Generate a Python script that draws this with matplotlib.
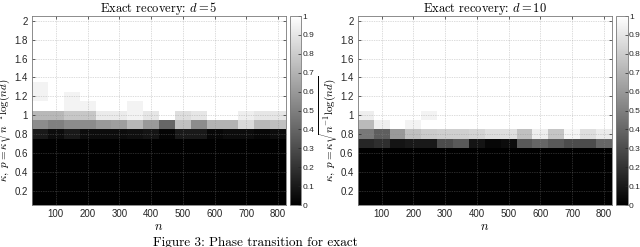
import numpy as np
import matplotlib
matplotlib.use("Agg")
import matplotlib.pyplot as plt

plt.rcParams["mathtext.fontset"] = "cm"
plt.rcParams["font.family"] = ["Liberation Sans", "DejaVu Sans"]

# --- data ---
n_vals = [50, 100, 150, 200, 250, 300, 350, 400, 450, 500, 550, 600, 650, 700, 750, 800]
kappa_vals = [0.1, 0.2, 0.3, 0.4, 0.5, 0.6, 0.7, 0.8, 0.9, 1.0,
              1.1, 1.2, 1.3, 1.4, 1.5, 1.6, 1.7, 1.8, 1.9, 2.0]

# d = 5 : rows with kappa 0.8 .. 1.3 (below all 0, above all 1)
d5_k08 = [0.10, 0.05, 0.10, 0.05, 0.05, 0.05, 0.06, 0.08, 0.02, 0.10, 0.10, 0.03, 0.05, 0.05, 0.03, 0.05]
d5_k09 = [0.55, 0.50, 0.55, 0.55, 0.60, 0.62, 0.72, 0.60, 0.40, 0.75, 0.55, 0.70, 0.70, 0.85, 0.72, 0.75]
d5_k10 = [0.72, 0.72, 0.78, 0.78, 0.92, 0.92, 0.95, 0.90, 1.00, 0.87, 0.90, 1.00, 1.00, 0.93, 0.90, 0.90]
d5_k11 = [1.00, 1.00, 0.95, 0.95, 1.00, 1.00, 0.95, 1.00, 1.00, 1.00, 1.00, 1.00, 1.00, 1.00, 1.00, 1.00]
d5_k12 = [0.95, 1.00, 0.95, 1.00, 1.00, 1.00, 1.00, 1.00, 1.00, 1.00, 1.00, 1.00, 1.00, 1.00, 1.00, 1.00]
d5_k13 = [0.95, 1.00, 1.00, 1.00, 1.00, 1.00, 1.00, 1.00, 1.00, 1.00, 1.00, 1.00, 1.00, 1.00, 1.00, 1.00]

# d = 10 : rows with kappa 0.7 .. 1.0
d10_k07 = [0.15, 0.18, 0.08, 0.10, 0.10, 0.30, 0.35, 0.08, 0.03, 0.05, 0.35, 0.40, 0.35, 0.30, 0.30, 0.40]
d10_k08 = [0.47, 0.37, 0.60, 0.75, 0.80, 0.81, 0.81, 0.83, 0.87, 0.87, 0.75, 0.93, 0.77, 0.96, 0.87, 0.92]
d10_k09 = [0.73, 0.93, 1.00, 0.95, 1.00, 1.00, 1.00, 1.00, 1.00, 1.00, 1.00, 1.00, 1.00, 1.00, 1.00, 1.00]
d10_k10 = [0.93, 1.00, 1.00, 1.00, 0.95, 1.00, 1.00, 1.00, 1.00, 1.00, 1.00, 1.00, 1.00, 1.00, 1.00, 1.00]


def build(rows, first_kappa):
    # rows under first_kappa are black (0), rows above the given ones are white (1)
    z = np.ones((len(kappa_vals), len(n_vals)))
    i0 = int(round(first_kappa * 10)) - 1
    z[:i0, :] = 0.0
    for j, r in enumerate(rows):
        z[i0 + j, :] = r
    return z


Z5 = build([d5_k08, d5_k09, d5_k10, d5_k11, d5_k12, d5_k13], 0.8)
Z10 = build([d10_k07, d10_k08, d10_k09, d10_k10], 0.7)

n_arr = np.array(n_vals, dtype=float)
k_arr = np.array(kappa_vals)
n_edges = np.concatenate([n_arr - 25, [n_arr[-1] + 25]])
k_edges = np.concatenate([k_arr - 0.05, [k_arr[-1] + 0.05]])

fig = plt.figure(figsize=(6.4, 2.47), dpi=100)

panels = [
    (Z5, r"Exact recovery: $d=5$", [0.050, 0.170, 0.397, 0.765], [0.453, 0.170, 0.018, 0.765]),
    (Z10, r"Exact recovery: $d=10$", [0.559, 0.170, 0.397, 0.765], [0.9625, 0.170, 0.018, 0.765]),
]

for Z, title, apos, cpos in panels:
    ax = fig.add_axes(apos)
    mesh = ax.pcolormesh(n_edges, k_edges, Z, cmap="gray", vmin=0, vmax=1)
    ax.set_xlim(25, 825)
    ax.set_ylim(0.05, 2.05)
    ax.set_xticks(range(100, 801, 100))
    ax.set_yticks(np.arange(0.2, 2.01, 0.2))
    ax.set_yticklabels(["%g" % round(v, 1) for v in np.arange(0.2, 2.01, 0.2)])
    ax.tick_params(direction="in", length=2.5, width=0.5, labelsize=7, colors="#262626",
                   top=True, right=True, pad=3)
    ax.grid(True, linestyle=(0, (1, 1.5)), color="#8c8c8c", linewidth=0.5, alpha=0.6)
    for s in ax.spines.values():
        s.set_color("#7a7a7a")
        s.set_linewidth(0.6)
    ax.set_title(title, fontsize=9, family="cmr10", pad=3)
    ax.set_xlabel(r"$n$", fontsize=9, labelpad=1)
    ax.set_ylabel(r"$\kappa,\ p=\kappa\sqrt{n^{-1}\log(nd)}$", fontsize=8)
    ax.yaxis.set_label_coords(-0.07, 0.40)

    cax = fig.add_axes(cpos)
    cb = fig.colorbar(mesh, cax=cax)
    cb.set_ticks(np.arange(0, 1.01, 0.1))
    cb.set_ticklabels(["%g" % round(v, 1) for v in np.arange(0, 1.01, 0.1)])
    cb.ax.tick_params(direction="in", length=2, width=0.5, labelsize=6, colors="#262626", pad=1)
    cb.outline.set_edgecolor("#7a7a7a")
    cb.outline.set_linewidth(0.6)

fig.text(0.239, 0.042, "Figure 3: Phase transition for exact", family="cmr10",
         fontsize=9.5, va="top", ha="left")

fig.savefig("out.png", dpi=100)
